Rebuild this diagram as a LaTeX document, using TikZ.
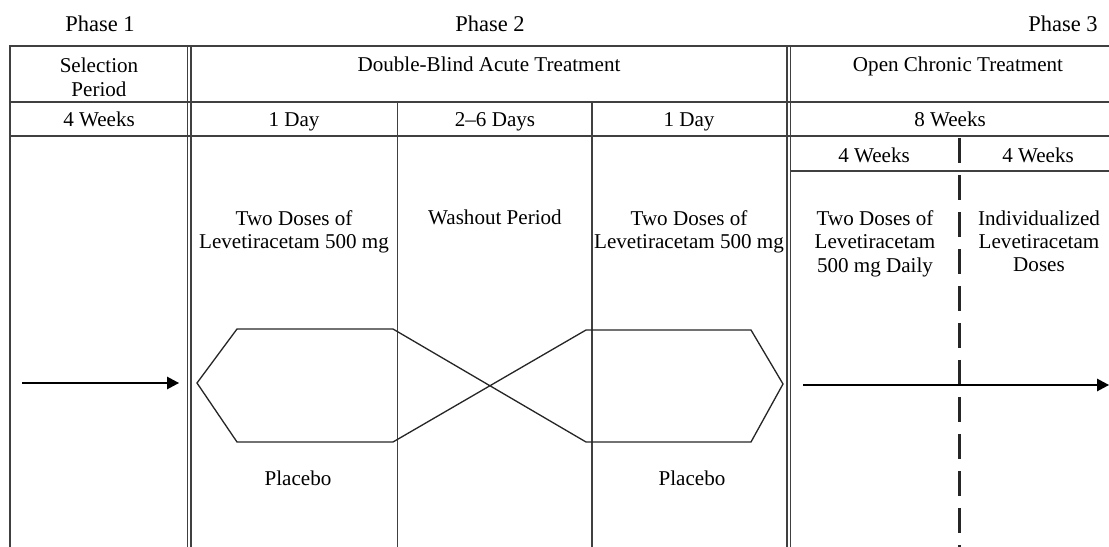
\documentclass[tikz,border=0pt]{standalone}
\usepackage{fontspec}
\setmainfont{Liberation Serif}
\usetikzlibrary{arrows.meta}

\begin{document}
\begin{tikzpicture}[x=0.02cm, y=-0.02cm,
    txt/.style={inner sep=0pt, font=\fontsize{12}{13.2}\selectfont, align=center},
    phase/.style={txt, anchor=base, font=\fontsize{12.8}{15}\selectfont},
    rule/.style={draw=black!75, line width=0.8pt},
    thinrule/.style={draw=black!75, line width=0.6pt},
    flow/.style={draw=black!85, line width=0.75pt, line join=miter},
    lead/.style={draw=black, line width=0.75pt, -{Triangle[length=0.24cm, width=0.25cm]}}]
    \useasboundingbox (0,0) rectangle (1109,547);

    % Phases
    \node[phase] (ph1) at (100,32) {Phase 1};
    \node[phase] (ph2) at (490,32) {Phase 2};
    \node[phase] (ph3) at (1063,32) {Phase 3};

    % Table grid
    \draw[rule] (10,547) -- (10,46) -- (1109,46);
    \draw[rule] (10,102) -- (1109,102);
    \draw[rule] (10,136) -- (1109,136);
    \draw[rule] (790,171) -- (1109,171);
    \draw[rule] (397.5,102) -- (397.5,547);
    \draw[rule] (592,102) -- (592,547);
    \foreach \x in {187.5,191,787,790.5}
        \draw[thinrule] (\x,46) -- (\x,547);
    \draw[black!85, line width=1.7pt, dash pattern=on 0.5cm off 0.24cm] (959,138) -- (959,547);

    % Header row
    \node[txt, anchor=north, font=\fontsize{12}{13.6}\selectfont] (selhead) at (99,57.5) {Selection\\Period};
    \node[txt, anchor=base] (dbhead) at (489,72) {Double-Blind Acute Treatment};
    \node[txt, anchor=base] (ochead) at (958,72) {Open Chronic Treatment};

    % Durations
    \foreach \x/\t [count=\i] in {99/4 Weeks,294/1 Day,495/2--6 Days,689/1 Day,950/8 Weeks}
        \node[txt, anchor=base] (dur\i) at (\x,127) {\t};
    \node[txt, anchor=base] (wkA) at (874,162.5) {4 Weeks};
    \node[txt, anchor=base] (wkB) at (1038,162.5) {4 Weeks};

    % Treatments
    \node[txt, anchor=north] (doseA) at (294,210.5) {Two Doses of\\Levetiracetam 500 mg};
    \node[txt, anchor=base] (wash) at (495,225) {Washout Period};
    \node[txt, anchor=north] (doseB) at (689,210.5) {Two Doses of\\Levetiracetam 500 mg};
    \node[txt, anchor=north] (doseC) at (875,210.5) {Two Doses of\\Levetiracetam\\500 mg Daily};
    \node[txt, anchor=north] (indiv) at (1039,210.5) {Individualized\\Levetiracetam\\Doses};
    \node[txt, anchor=base] (placA) at (298,485) {Placebo};
    \node[txt, anchor=base] (placB) at (692,485) {Placebo};

    % Crossover paths
    \draw[flow] (197,383) -- (237,329) -- (393,329) -- (586,442) -- (751,442) -- (783,384)
        -- (751,330) -- (586,330) -- (393,442) -- (237,442) -- cycle;

    % Entry and exit arrows
    \coordinate (inL) at (22,383);
    \coordinate (inR) at (179,383);
    \coordinate (outL) at (803,385);
    \coordinate (outR) at (1109,385);
    \draw[lead] (inL) -- (inR);
    \draw[lead] (outL) -- (outR);
\end{tikzpicture}
\end{document}
